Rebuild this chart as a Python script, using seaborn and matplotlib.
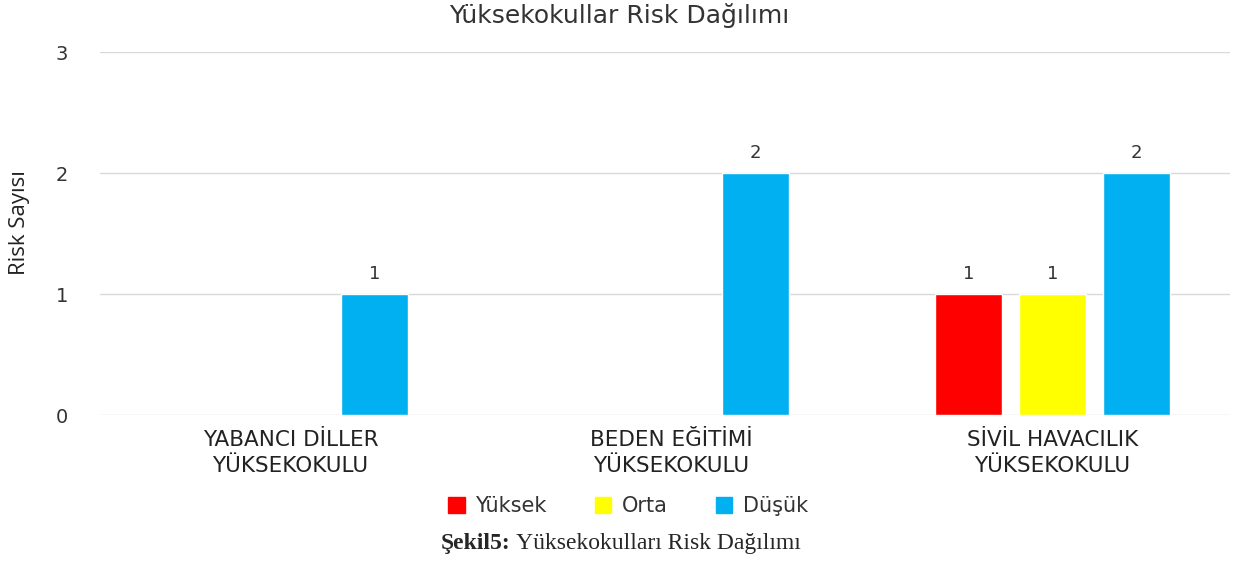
import seaborn as sns
import pandas as pd
import matplotlib.pyplot as plt

categories = ["YABANCI DİLLER\nYÜKSEKOKULU", "BEDEN EĞİTİMİ\nYÜKSEKOKULU", "SİVİL HAVACILIK\nYÜKSEKOKULU"]
levels = ["Yüksek", "Orta", "Düşük"]
yuksek = [0, 0, 1]
orta = [0, 0, 1]
dusuk = [1, 2, 2]
colors = ["#FF0000", "#FFFF00", "#00B0F0"]

rows = []
for lvl, vals in zip(levels, [yuksek, orta, dusuk]):
    for cat, v in zip(categories, vals):
        rows.append({"okul": cat, "seviye": lvl, "sayi": v})
df = pd.DataFrame(rows)

sns.set_style("white")
plt.rcParams['font.family'] = ['DejaVu Sans']

fig = plt.figure(figsize=(12.56, 5.61), dpi=100)
ax = fig.add_axes([0.0796, 0.260, 0.8997, 0.647])

sns.barplot(data=df, x="okul", y="sayi", hue="seviye", hue_order=levels,
            palette=colors, width=0.66, gap=0.2, saturation=1, ax=ax,
            legend=True, errorbar=None)

# value labels, skip zeros
for cont in ax.containers:
    labels = [f"{int(b.get_height())}" if b.get_height() > 0 else "" for b in cont]
    ax.bar_label(cont, labels=labels, padding=8, fontsize=13, color="#333333")

ax.set_xlim(-0.5, 2.466)
ax.set_ylim(0, 3)
ax.set_yticks([0, 1, 2, 3])
ax.yaxis.grid(True, color="#d9d9d9", linewidth=1)
ax.set_axisbelow(True)
for s in ax.spines.values():
    s.set_visible(False)
ax.tick_params(axis="y", length=0, pad=23, labelsize=14, labelcolor="#333333")
ax.tick_params(axis="x", length=0, pad=11, labelsize=15.5, labelcolor="#222222")
for t in ax.get_xticklabels():
    t.set_linespacing(1.35)
ax.set_xlabel("")
ax.set_ylabel("Risk Sayısı", fontsize=16, family="Open Sans", color="#222222")
ax.yaxis.set_label_coords(-0.062, 0.53)

fig.text(0.493, 0.972, "Yüksekokullar Risk Dağılımı", ha="center", va="center",
         fontsize=18, color="#333333")

ax.legend_.remove()
handles = [plt.Rectangle((0, 0), 1, 1, color=c) for c in colors]
fig.legend(handles, levels, loc="center", bbox_to_anchor=(0.5, 0.098), ncol=3,
           frameon=False, fontsize=15, handlelength=0.8, handleheight=0.8,
           columnspacing=2.3, handletextpad=0.5, labelcolor="#333333")

cap = fig.text(0.351, 0.032, "Şekil5:", ha="left", va="center", fontsize=17,
               family="Liberation Serif", weight="bold")
ax.annotate(" Yüksekokulları Risk Dağılımı", xy=(1, 0.5), xycoords=cap,
            ha="left", va="center", fontsize=17, family="Liberation Serif",
            annotation_clip=False)

fig.savefig("out.png", dpi=100)
